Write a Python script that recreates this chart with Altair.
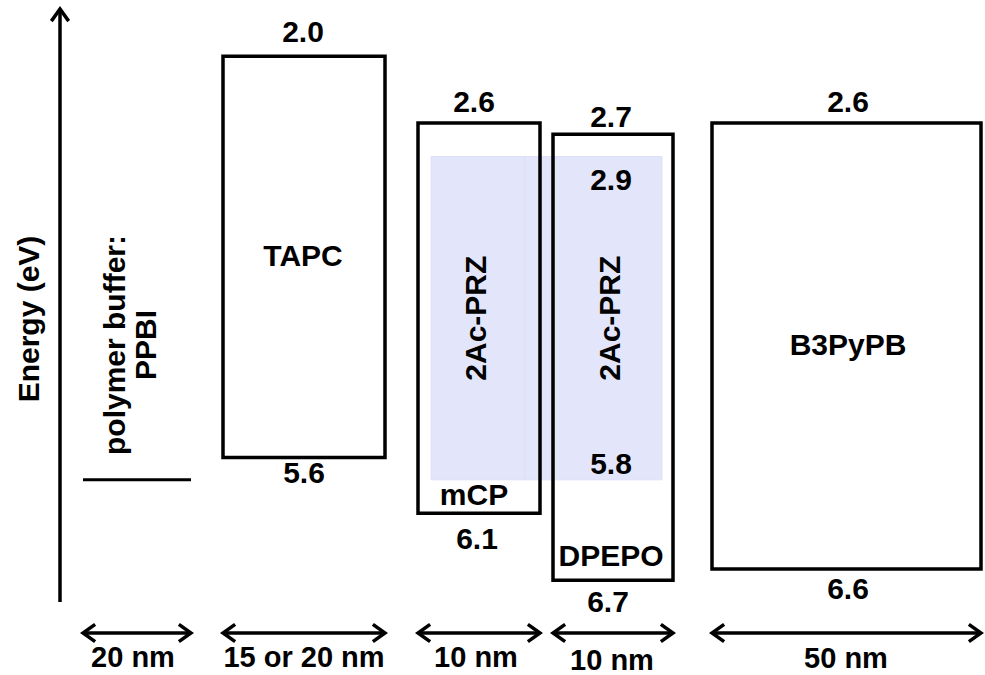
import altair as alt
import pandas as pd

# ---- Device stack: frontier orbital energies (eV) and layer thicknesses ----
layers = ["PPBI", "TAPC", "mCP", "DPEPO", "B3PyPB"]
lumo = [None, 2.0, 2.6, 2.7, 2.6]
homo = [5.8, 5.6, 6.1, 6.7, 6.6]
thickness = ["20 nm", "15 or 20 nm", "10 nm", "10 nm", "50 nm"]

# Emitter doped into the two host layers
emitter = "2Ac-PRZ"
emitter_lumo = 2.9
emitter_homo = 5.8

# ---- Layout (canvas units along the horizontal axis) ----
W, H = 985, 675
x_left = [83, 223, 418, 553, 712]
x_right = [191, 385, 540, 673, 981]
emitter_x = [(431, 525), (525, 662)]          # doped parts of mCP and DPEPO
emitter_label_x = [477, 611]

# Energy scale: 111.5 px per eV, 4.3 eV at pixel row 312.6
PX_PER_EV = 111.5
E_TOP = 4.3 - 312.6 / PX_PER_EV
E_BOTTOM = 4.3 + (H - 312.6) / PX_PER_EV

FONT = "Liberation Sans"
FS = 30
LW = 3.5

xs = alt.Scale(domain=[0, W], range=[0, W], nice=False, zero=False)
ys = alt.Scale(domain=[E_TOP, E_BOTTOM], reverse=True, nice=False, zero=False)


def X(f):
    return alt.X(f, type="quantitative", scale=xs, axis=None)


def Y(f):
    return alt.Y(f, type="quantitative", scale=ys, axis=None)


# ---- Tables built from the arrays above ----
boxes = pd.DataFrame({
    "layer": layers[1:],
    "x1": x_left[1:], "x2": x_right[1:],
    "lumo": lumo[1:], "homo": homo[1:],
})
ppbi = pd.DataFrame({"x1": [x_left[0]], "x2": [x_right[0]], "homo": [homo[0]]})
shade = pd.DataFrame({
    "x1": [a for a, b in emitter_x], "x2": [b for a, b in emitter_x],
    "lumo": [emitter_lumo] * 2, "homo": [emitter_homo] * 2,
})

# energy value and layer-name labels: (text, x, anchor energy, pixel offset)
labels = pd.DataFrame([
    (f"{lumo[1]:.1f}", 303, lumo[1], -23),
    (f"{homo[1]:.1f}", 304, homo[1], 16),
    (f"{lumo[2]:.1f}", 474, lumo[2], -20),
    (f"{homo[2]:.1f}", 477, homo[2], 27),
    (f"{lumo[3]:.1f}", 611, lumo[3], -16),
    (f"{homo[3]:.1f}", 608, homo[3], 23),
    (f"{lumo[4]:.1f}", 848, lumo[4], -20),
    (f"{homo[4]:.1f}", 848, homo[4], 21),
    (f"{emitter_lumo:.1f}", 611, emitter_lumo, 24),
    (f"{emitter_homo:.1f}", 611, emitter_homo, -15),
    ("TAPC", 303, (lumo[1] + homo[1]) / 2, 0),
    ("mCP", 474, homo[2], -17),
    ("DPEPO", 611, homo[3], -23),
    ("B3PyPB", 848, (lumo[4] + homo[4]) / 2, 0),
], columns=["label", "x", "e", "dy"])

emitter_labels = pd.DataFrame({
    "label": [emitter] * 2,
    "x": emitter_label_x,
    "e": [(emitter_lumo + emitter_homo) / 2] * 2,
})

arrows = pd.DataFrame({"x1": x_left, "x2": x_right})
thick_labels = pd.DataFrame({
    "label": thickness,
    "x": [133, 304, 476, 612, 846],
    "dy": [0, 0, 0, 3, 1],
})

# ---- Marks ----
shade_layer = alt.Chart(shade).mark_rect(fill="#e3e6fa", stroke="#d9ddf6", strokeWidth=0.8).encode(
    x=X("x1"), x2="x2", y=Y("lumo"), y2="homo")

box_layer = alt.Chart(boxes).mark_rect(
    fillOpacity=0, stroke="black", strokeWidth=LW).encode(
    x=X("x1"), x2="x2", y=Y("lumo"), y2="homo")

ppbi_layer = alt.Chart(ppbi).mark_rule(color="black", strokeWidth=LW - 0.5).encode(
    x=X("x1"), x2="x2", y=Y("homo"))

# energy axis drawn as an arrow
axis_line = alt.Chart(pd.DataFrame({"k": [0]})).mark_rule(color="black", strokeWidth=LW).encode(
    x=alt.value(60), y=alt.value(9), y2=alt.value(602))
axis_head = alt.Chart(pd.DataFrame({"k": [0]})).mark_point(
    shape="M-1,1.4L0,0L1,1.4", size=300, filled=False, stroke="black",
    strokeWidth=LW, opacity=1).encode(x=alt.value(60), y=alt.value(9))

axis_title = alt.Chart(pd.DataFrame({"label": ["Energy (eV)"]})).mark_text(
    font=FONT, fontSize=FS, fontWeight="bold", angle=270, align="center",
    baseline="middle", color="black").encode(
    x=alt.value(30), y=alt.value(319), text="label:N")

ppbi_text = alt.Chart(pd.DataFrame({"label": [["polymer buffer:", layers[0]]]})).mark_text(
    font=FONT, fontSize=FS, fontWeight="bold", angle=270, align="center",
    baseline="middle", lineHeight=31, color="black").encode(
    x=alt.value(116), y=alt.value(345), text="label")

# thickness arrows
th_line = alt.Chart(arrows).mark_rule(color="black", strokeWidth=LW).encode(
    x=X("x1"), x2="x2", y=alt.value(633))
th_left = alt.Chart(arrows).mark_point(
    shape="M1.4,-1L0,0L1.4,1", size=300, filled=False, stroke="black",
    strokeWidth=LW, opacity=1).encode(x=X("x1"), y=alt.value(633))
th_right = alt.Chart(arrows).mark_point(
    shape="M-1.4,-1L0,0L-1.4,1", size=300, filled=False, stroke="black",
    strokeWidth=LW, opacity=1).encode(x=X("x2"), y=alt.value(633))

th_layers = []
for off in sorted(thick_labels["dy"].unique()):
    th_layers.append(
        alt.Chart(thick_labels[thick_labels["dy"] == off]).mark_text(
            font=FONT, fontSize=FS - 1, fontWeight="bold", align="center",
            baseline="middle", color="black", dy=int(off)).encode(
            x=X("x"), y=alt.value(658), text="label:N"))

# one text layer per pixel offset (dy is a mark property)
label_layers = []
for off in sorted(labels["dy"].unique()):
    label_layers.append(
        alt.Chart(labels[labels["dy"] == off]).mark_text(
            font=FONT, fontSize=FS, fontWeight="bold", align="center",
            baseline="middle", color="black", dy=int(off)).encode(
            x=X("x"), y=Y("e"), text="label:N"))

emitter_text = alt.Chart(emitter_labels).mark_text(
    font=FONT, fontSize=FS, fontWeight="bold", angle=270, align="center",
    baseline="middle", color="black").encode(
    x=X("x"), y=Y("e"), text="label:N")

chart = alt.layer(
    shade_layer, box_layer, ppbi_layer, axis_line, axis_head, axis_title,
    ppbi_text, th_line, th_left, th_right, *th_layers,
    *label_layers, emitter_text,
).properties(
    width=W, height=H, padding=0, background="white",
    autosize=alt.AutoSizeParams(type="none"),
).configure_view(stroke=None)

chart.save("out.html", embed_options={"renderer": "svg", "actions": False})
